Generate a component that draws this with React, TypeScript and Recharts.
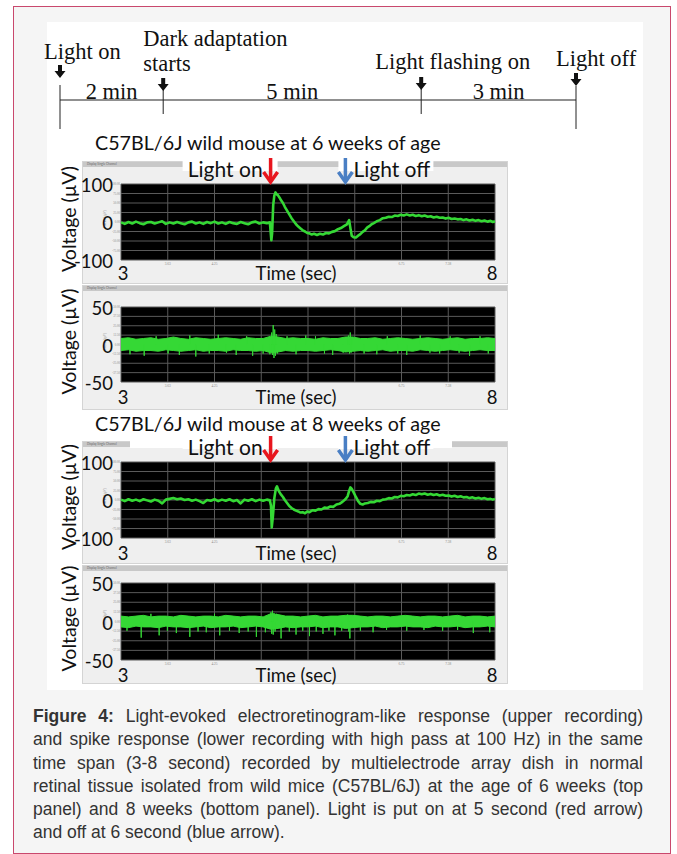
import React from 'react';
import { ComposedChart, Line, Area, Scatter, XAxis, YAxis, CartesianGrid, ReferenceLine, Label } from 'recharts';

// protocol timeline (minutes)
const eventTimes = [0, 2, 7, 10];
const eventLabels = [['Light on'], ['Dark adaptation', 'starts'], ['Light flashing on'], ['Light off']];

// recording axes
const timeTicks = [3, 3.625, 4.25, 4.875, 5.5, 6.125, 6.75, 7.375, 8];
const ergTicks = [-100, -75, -50, -25, 0, 25, 50, 75, 100];
const spikeTicks = [-50, -37.5, -25, -12.5, 0, 12.5, 25, 37.5, 50];
const lightOnSec = 5;
const lightOffSec = 6;

// ERG-like response, 6 weeks (sec, µV)
const erg6wk: [number, number][] = [
  [3.0, -1], [3.05, -5], [3.1, 0], [3.15, -4], [3.2, 1], [3.25, -3], [3.3, -6], [3.35, -1], [3.4, 0], [3.45, -4],
  [3.5, -1], [3.55, 2], [3.6, -5], [3.65, -1], [3.7, -4], [3.75, 0], [3.8, -3], [3.85, -6], [3.9, -1], [3.95, 1],
  [4.0, -4], [4.05, -1], [4.1, -5], [4.15, 0], [4.2, -3], [4.25, 1], [4.3, -4], [4.35, -1], [4.4, -5], [4.45, 0],
  [4.5, -3], [4.55, -5], [4.6, 0], [4.65, -3], [4.7, -6], [4.75, -1], [4.8, 1], [4.85, -4], [4.9, -1], [4.95, -3],
  [4.99, -1], [5.01, -48], [5.02, -30], [5.035, 45], [5.05, 70], [5.065, 78], [5.08, 73], [5.1, 70], [5.12, 64],
  [5.14, 57], [5.165, 50], [5.19, 40], [5.22, 30], [5.25, 20], [5.28, 10], [5.31, 2], [5.34, -6], [5.37, -12],
  [5.4, -17], [5.43, -22], [5.46, -25], [5.49, -29], [5.52, -30], [5.55, -33], [5.58, -31], [5.62, -34], [5.66, -31],
  [5.7, -33], [5.74, -29], [5.78, -30], [5.82, -26], [5.86, -24], [5.9, -19], [5.94, -16], [5.98, -11], [6.02, -6],
  [6.05, 5], [6.07, -20], [6.085, -36], [6.11, -40], [6.14, -41], [6.17, -36], [6.2, -32], [6.23, -26], [6.26, -22],
  [6.29, -15], [6.32, -11], [6.35, -6], [6.38, -3], [6.42, 2], [6.46, 5], [6.5, 10], [6.54, 11], [6.58, 14],
  [6.62, 13], [6.66, 17], [6.7, 16], [6.74, 19], [6.78, 17], [6.82, 20], [6.86, 17], [6.9, 19], [6.94, 16],
  [6.98, 18], [7.02, 15], [7.06, 17], [7.1, 14], [7.14, 15], [7.18, 12], [7.22, 14], [7.26, 11], [7.3, 12],
  [7.34, 9], [7.38, 11], [7.42, 8], [7.46, 9], [7.5, 7], [7.54, 8], [7.58, 5], [7.62, 7], [7.66, 4], [7.7, 6],
  [7.74, 3], [7.78, 5], [7.82, 2], [7.86, 4], [7.9, 1], [7.94, 3], [7.97, 0], [8.0, 2],
];

// ERG-like response, 8 weeks (sec, µV)
const erg8wk: [number, number][] = [
  [3.0, 1], [3.05, -3], [3.1, 2], [3.15, -2], [3.2, 1], [3.25, -3], [3.3, 2], [3.35, -1], [3.4, -4], [3.45, 1],
  [3.5, -2], [3.55, -9], [3.6, 1], [3.65, 3], [3.7, 5], [3.75, 2], [3.8, 4], [3.85, 0], [3.9, 2], [3.95, -2],
  [4.0, 1], [4.05, -3], [4.1, -8], [4.15, 0], [4.2, -2], [4.25, 2], [4.3, -3], [4.35, 1], [4.4, -2], [4.45, 2],
  [4.5, -3], [4.55, 0], [4.6, -9], [4.65, 1], [4.7, -2], [4.75, 2], [4.8, -3], [4.85, 1], [4.9, -2], [4.95, 1],
  [4.99, -1], [5.005, -15], [5.015, -72], [5.03, -45], [5.05, 5], [5.07, 30], [5.085, 36], [5.1, 28], [5.12, 20],
  [5.14, 14], [5.165, 8], [5.19, 0], [5.22, -8], [5.25, -16], [5.28, -21], [5.31, -25], [5.34, -28], [5.37, -30],
  [5.4, -33], [5.43, -32], [5.46, -35], [5.49, -30], [5.52, -32], [5.56, -27], [5.6, -28], [5.64, -24], [5.68, -25],
  [5.72, -20], [5.76, -21], [5.8, -17], [5.84, -18], [5.88, -12], [5.92, -10], [5.96, -5], [6.0, 2], [6.03, 10],
  [6.05, 24], [6.067, 33], [6.085, 29], [6.11, 20], [6.14, 8], [6.17, -3], [6.2, -10], [6.23, -12], [6.26, -9],
  [6.3, -8], [6.34, -5], [6.38, -6], [6.42, -2], [6.46, -3], [6.5, 1], [6.54, 2], [6.58, 5], [6.62, 4], [6.66, 8],
  [6.7, 7], [6.74, 11], [6.78, 10], [6.82, 13], [6.86, 12], [6.9, 15], [6.94, 13], [6.98, 17], [7.02, 15],
  [7.06, 17], [7.1, 14], [7.14, 16], [7.18, 13], [7.22, 15], [7.26, 12], [7.3, 14], [7.34, 11], [7.38, 12],
  [7.42, 9], [7.46, 11], [7.5, 8], [7.54, 10], [7.58, 7], [7.62, 8], [7.66, 5], [7.7, 7], [7.74, 4], [7.78, 6],
  [7.82, 3], [7.86, 5], [7.9, 2], [7.94, 3], [7.97, 1], [8.0, 3],
];

// spike recordings (high pass 100 Hz): noise envelope every 0.1 s plus single spikes
const bandTime = [
  3.0, 3.1, 3.2, 3.3, 3.4, 3.5, 3.6, 3.7, 3.8, 3.9, 4.0, 4.1, 4.2, 4.3, 4.4, 4.5, 4.6, 4.7, 4.8, 4.9,
  5.0, 5.1, 5.2, 5.3, 5.4, 5.5, 5.6, 5.7, 5.8, 5.9, 6.0, 6.1, 6.2, 6.3, 6.4, 6.5, 6.6, 6.7, 6.8, 6.9,
  7.0, 7.1, 7.2, 7.3, 7.4, 7.5, 7.6, 7.7, 7.8, 7.9, 8.0,
];
const spike6Upper = [
  8, 9, 7, 8, 9, 7, 8, 10, 8, 7, 9, 8, 7, 8, 9, 8, 7, 9, 8, 8,
  11, 10, 8, 9, 8, 8, 7, 9, 8, 8, 10, 10, 8, 8, 9, 7, 8, 9, 8, 7,
  8, 9, 8, 7, 8, 9, 7, 8, 8, 9, 8,
];
const spike6Lower = [
  -8, -7, -9, -8, -8, -9, -7, -8, -9, -8, -7, -9, -8, -8, -9, -7, -8, -8, -9, -8,
  -11, -10, -8, -9, -8, -8, -9, -8, -7, -8, -10, -9, -8, -9, -8, -7, -9, -8, -8, -9,
  -7, -8, -9, -8, -7, -8, -9, -8, -7, -8, -8,
];
const spike6Hairs: [number, number][] = [
  [3.12, -13], [3.31, -15], [3.47, 11], [3.63, -12], [3.78, -14], [3.92, 12], [4.0, -16], [4.18, -12], [4.3, 13],
  [4.41, -11], [4.54, -14], [4.68, 11], [4.76, -15], [4.9, -12], [4.99, -13], [5.015, 16], [5.025, -14], [5.035, 26],
  [5.045, -18], [5.055, 20], [5.065, -15], [5.075, 14], [5.09, -12], [5.22, 11], [5.34, -13], [5.47, 12], [5.6, 11],
  [5.72, -12], [5.83, -14], [5.97, -11], [6.04, 12], [6.055, -12], [6.065, 16], [6.075, -11], [6.09, 10], [6.25, -12],
  [6.42, -13], [6.56, 11], [6.7, -12], [6.82, -14], [7.0, 12], [7.13, -11], [7.26, -12], [7.4, 11], [7.52, -11],
  [7.66, -15], [7.8, 11], [7.91, -12],
];
const spike8Upper = [
  7, 6, 7, 8, 6, 7, 7, 6, 8, 7, 6, 7, 7, 6, 8, 7, 6, 7, 7, 6,
  10, 9, 7, 7, 6, 7, 8, 6, 7, 7, 8, 8, 7, 6, 7, 7, 6, 7, 8, 7,
  6, 7, 7, 6, 7, 8, 6, 7, 7, 6, 7,
];
const spike8Lower = [
  -7, -8, -6, -7, -7, -8, -6, -7, -7, -8, -7, -6, -8, -7, -7, -6, -8, -7, -6, -7,
  -10, -9, -7, -8, -7, -7, -6, -8, -7, -7, -9, -8, -7, -7, -6, -8, -7, -7, -6, -7,
  -7, -8, -6, -7, -7, -6, -8, -7, -7, -6, -7,
];
const spike8Hairs: [number, number][] = [
  [3.08, -12], [3.27, -21], [3.4, 10], [3.51, -18], [3.62, -12], [3.74, -15], [3.92, -20], [4.03, -13], [4.14, -14],
  [4.25, 10], [4.32, -18], [4.45, -12], [4.58, -15], [4.7, -13], [4.81, -20], [4.93, -14], [5.005, 12], [5.015, -16],
  [5.025, 14], [5.035, -17], [5.045, 11], [5.06, -13], [5.08, 10], [5.14, -22], [5.25, -13], [5.34, -17], [5.43, -12],
  [5.52, -19], [5.61, -13], [5.7, -16], [5.78, -12], [5.86, -18], [5.95, -12], [6.03, 9], [6.045, -13], [6.06, -22],
  [6.075, 8], [6.2, -12], [6.37, -14], [6.55, -11], [6.82, -12], [7.05, -11], [7.3, -12], [7.5, -11], [7.71, -15],
  [7.93, -14],
];

const SANS = 'Lato, "Open Sans", sans-serif';
const SERIF = '"Liberation Serif", "DejaVu Serif", serif';
const GREEN = '#35d835';
const PANEL_FONT = 18.5;

// label placement around each timeline tick (px, relative to the tick)
const eventLayout = [
  { dx: -16, lines: [-49], arrowTop: -35, tickTop: -15, tickBottom: 29 },
  { dx: -20, lines: [-62, -37], arrowTop: -22, tickTop: -11, tickBottom: 14 },
  { dx: -46, lines: [-39], arrowTop: -23, tickTop: -11, tickBottom: 14 },
  { dx: -20, lines: [-42], arrowTop: -27, tickTop: -14, tickBottom: 29 },
];

const DownArrow = ({ x, y }: { x: number; y: number }) => (
  <path d={`M${x - 2} ${y} L${x + 2} ${y} L${x + 2} ${y + 6} L${x + 5.5} ${y + 6} L${x} ${y + 13} L${x - 5.5} ${y + 6} L${x - 2} ${y + 6} Z`} fill="#111" />
);

const EventMark = (props: any) => {
  const { cx, cy, payload } = props;
  const lay = eventLayout[payload.i];
  return (
    <g>
      <line x1={cx} x2={cx} y1={cy + lay.tickTop} y2={cy + lay.tickBottom} stroke="#222" strokeWidth={1} />
      <DownArrow x={cx} y={cy + lay.arrowTop} />
      {eventLabels[payload.i].map((s, k) => (
        <text key={k} x={cx + lay.dx} y={cy + lay.lines[k]} dominantBaseline="central" fontFamily={SERIF} fontSize={22.5} fill="#111">
          {s}
        </text>
      ))}
    </g>
  );
};

const SpanMark = (props: any) => {
  const { cx, cy, payload } = props;
  return (
    <text x={cx} y={cy - 9} textAnchor="middle" dominantBaseline="central" fontFamily={SERIF} fontSize={22.5} fill="#111">
      {`${payload.mins} min`}
    </text>
  );
};

const Timeline = () => {
  const marks = eventTimes.map((t, i) => ({ t, y: 0, i }));
  const spans = eventTimes.slice(1).map((t, i) => ({ t: (t + eventTimes[i]) / 2, y: 0, mins: t - eventTimes[i] }));
  const axis = [{ t: eventTimes[0], y: 0 }, { t: eventTimes[eventTimes.length - 1], y: 0 }];
  return (
    <div style={{ position: 'absolute', left: 0, top: 0 }}>
      <ComposedChart width={677} height={140} margin={{ top: 60, right: 101, bottom: 0, left: 60 }}>
        <XAxis type="number" dataKey="t" domain={[0, 10]} hide />
        <YAxis type="number" dataKey="y" domain={[-1, 1]} hide />
        <Line data={axis} dataKey="y" stroke="#222" strokeWidth={1.2} dot={false} isAnimationActive={false} />
        <Scatter data={marks} dataKey="y" shape={EventMark} isAnimationActive={false} />
        <Scatter data={spans} dataKey="y" shape={SpanMark} isAnimationActive={false} />
      </ComposedChart>
    </div>
  );
};

const ArrowLabel = (props: any) => {
  const { viewBox, color, text, side } = props;
  const x = viewBox.x;
  const y = viewBox.y;
  const left = side === 'left';
  return (
    <g>
      <rect x={left ? x - 88 : x - 7} y={y - 27} width={95} height={14} fill="#fff" />
      <text x={left ? x - 8 : x + 8} y={y - 16} textAnchor={left ? 'end' : 'start'} dominantBaseline="central" fontFamily={SANS} fontSize={21} fill="#111">
        {text}
      </text>
      <line x1={x} x2={x} y1={y - 26} y2={y - 3} stroke={color} strokeWidth={3.5} />
      <polyline points={`${x - 7},${y - 12} ${x},${y - 2} ${x + 7},${y - 12}`} fill="none" stroke={color} strokeWidth={3.5} />
    </g>
  );
};

type PanelProps = {
  top: number;
  marginTop: number;
  plotHeight: number;
  axisHeight: number;
  yTicks: number[];
  timeDy: number;
  arrows: boolean;
  data: any[];
  series: React.ReactNode[];
};

const RecordingPanel = ({ top, marginTop, plotHeight, axisHeight, yTicks, timeDy, arrows, data, series }: PanelProps) => {
  const yMax = yTicks[yTicks.length - 1];
  const first = timeTicks[0];
  const last = timeTicks[timeTicks.length - 1];
  const mid = (first + last) / 2;
  const timeTick = (p: any) => {
    const v = p.payload.value;
    const big = v === first || v === last;
    // the small software labels under the axis title are hidden by it
    const underTitle = Math.abs(v - mid) < 0.7;
    return (
      <g>
        {!big && !underTitle && (
          <text x={p.x} y={p.y + 4} textAnchor="middle" dominantBaseline="central" fontSize={3.5} fill="#888">{v.toFixed(2)}</text>
        )}
        {big && (
          <text x={p.x + (v === first ? 2 : -3)} y={p.y + timeDy} textAnchor="middle" dominantBaseline="central" fontFamily={SANS} fontSize={PANEL_FONT} fill="#111">
            {v}
          </text>
        )}
      </g>
    );
  };
  const voltTick = (p: any) => {
    const v = p.payload.value;
    const big = v === yMax || v === 0 || v === -yMax;
    return (
      <g>
        {v !== -yMax && (
          <text x={p.x - 1} y={p.y} textAnchor="end" dominantBaseline="central" fontSize={3} fill="#888">{v.toFixed(2)}</text>
        )}
        {big && (
          <text x={p.x - 8} y={p.y + 1} textAnchor="end" dominantBaseline="central" fontFamily={SANS} fontSize={PANEL_FONT} fill="#111">
            {v}
          </text>
        )}
      </g>
    );
  };
  return (
    <div style={{ position: 'absolute', left: 50, top }}>
      <ComposedChart width={458} height={marginTop + plotHeight + axisHeight + 8} data={data} margin={{ top: marginTop, right: 13, bottom: 8, left: 0 }}>
        <CartesianGrid fill="#000" fillOpacity={1} stroke="#5a5a5a" strokeWidth={1} />
        <XAxis type="number" dataKey="t" domain={[3, 8]} ticks={timeTicks} interval={0} height={axisHeight} tickSize={0} tickMargin={0} tickLine={false} axisLine={false} tick={timeTick}>
          <Label
            content={(lp: any) => (
              <text x={lp.viewBox.x + lp.viewBox.width / 2 - 12} y={lp.viewBox.y + timeDy} textAnchor="middle" dominantBaseline="central" fontFamily={SANS} fontSize={PANEL_FONT} fill="#111">
                Time (sec)
              </text>
            )}
          />
        </XAxis>
        <YAxis type="number" domain={[-yMax, yMax]} ticks={yTicks} interval={0} width={71} tickSize={0} tickMargin={0} tickLine={false} axisLine={false} tick={voltTick} allowDataOverflow>
          <Label
            content={(lp: any) => {
              const cx = lp.viewBox.x + 18;
              const cy = lp.viewBox.y + lp.viewBox.height / 2 - 3;
              const tx = lp.viewBox.x + 55;
              return (
                <g>
                  <text x={cx} y={cy} transform={`rotate(-90 ${cx} ${cy})`} textAnchor="middle" dominantBaseline="central" fontFamily={SANS} fontSize={19.5} fill="#111">
                    Voltage (µV)
                  </text>
                  <text x={tx} y={cy} transform={`rotate(-90 ${tx} ${cy})`} textAnchor="middle" dominantBaseline="central" fontSize={3} fill="#888">
                    Potential (µV)
                  </text>
                </g>
              );
            }}
          />
        </YAxis>
        {series}
        {arrows && (
          <ReferenceLine x={lightOnSec} stroke="none" label={<ArrowLabel color="#e8161e" text="Light on" side="left" />} />
        )}
        {arrows && (
          <ReferenceLine x={lightOffSec} stroke="none" label={<ArrowLabel color="#4a7fc4" text="Light off" side="right" />} />
        )}
      </ComposedChart>
    </div>
  );
};

const ergSeries = (key: string) => [
  <Line key={key} dataKey="v" type="linear" stroke={GREEN} strokeWidth={2.6} strokeLinejoin="round" dot={false} isAnimationActive={false} />,
];

const spikeSeries = (hairs: [number, number][]) => [
  <Area key="band" dataKey="band" type="linear" stroke={GREEN} strokeWidth={1} fill={GREEN} fillOpacity={1} dot={false} isAnimationActive={false} />,
  <Line
    key="hairs"
    data={hairs.flatMap(([t, v]) => [{ t, v: 0 }, { t, v }, { t, v: 0 }])}
    dataKey="v"
    type="linear"
    stroke={GREEN}
    strokeWidth={1}
    dot={false}
    isAnimationActive={false}
  />,
];

const Frame = ({ top, height }: { top: number; height: number }) => (
  <div style={{ position: 'absolute', left: 82, top, width: 426, height, background: '#efefef', boxSizing: 'border-box', border: '1px solid #d4d4d4' }}>
    <div style={{ height: 5, background: '#c8c8c8', fontSize: 3, lineHeight: '5px', color: '#666', paddingLeft: 4, fontFamily: SANS }}>
      Display Single Channel
    </div>
  </div>
);

const captionLines = [
  'Light-evoked electroretinogram-like response (upper recording)',
  'and spike response (lower recording with high pass at 100 Hz) in the same',
  'time span (3-8 second) recorded by multielectrode array dish in normal',
  'retinal tissue isolated from wild mice (C57BL/6J) at the age of 6 weeks (top',
  'panel) and 8 weeks (bottom panel). Light is put on at 5 second (red arrow)',
  'and off at 6 second (blue arrow).',
];

export default function App() {
  const erg6Data = erg6wk.map(([t, v]) => ({ t, v }));
  const erg8Data = erg8wk.map(([t, v]) => ({ t, v }));
  const spike6Data = bandTime.map((t, i) => ({ t, band: [spike6Lower[i], spike6Upper[i]] }));
  const spike8Data = bandTime.map((t, i) => ({ t, band: [spike8Lower[i], spike8Upper[i]] }));
  const titleStyle: React.CSSProperties = {
    position: 'absolute', left: 95, fontFamily: SANS, fontSize: 19.7, lineHeight: '18px', color: '#111', whiteSpace: 'nowrap',
  };
  return (
    <div style={{ position: 'absolute', left: 0, top: 0, width: 677, height: 854, background: '#fff', overflow: 'hidden' }}>
      <div style={{ position: 'absolute', left: 13, top: 6, width: 658, height: 848, boxSizing: 'border-box', border: '1.5px solid #c9486d', background: '#f5f5f5' }} />
      <div style={{ position: 'absolute', left: 47, top: 22, width: 596, height: 668, background: '#fff' }} />

      <Frame top={161} height={123} />
      <Frame top={285} height={125} />
      <Frame top={441} height={123} />
      <Frame top={565} height={119} />
      <div style={{ position: 'absolute', left: 130, top: 438, width: 322, height: 10, background: '#fff' }} />

      <div style={{ ...titleStyle, top: 134 }}>C57BL/6J wild mouse at 6 weeks of age</div>
      <div style={{ ...titleStyle, top: 415 }}>C57BL/6J wild mouse at 8 weeks of age</div>

      <Timeline />

      <RecordingPanel top={150} marginTop={34} plotHeight={76} axisHeight={24} yTicks={ergTicks} timeDy={13} arrows data={erg6Data} series={ergSeries('erg6')} />
      <RecordingPanel top={285} marginTop={22} plotHeight={75} axisHeight={28} yTicks={spikeTicks} timeDy={15} arrows={false} data={spike6Data} series={spikeSeries(spike6Hairs)} />
      <RecordingPanel top={430} marginTop={32} plotHeight={76} axisHeight={26} yTicks={ergTicks} timeDy={15} arrows data={erg8Data} series={ergSeries('erg8')} />
      <RecordingPanel top={565} marginTop={18} plotHeight={77} axisHeight={24} yTicks={spikeTicks} timeDy={15} arrows={false} data={spike8Data} series={spikeSeries(spike8Hairs)} />

      <div style={{ position: 'absolute', left: 33, top: 705, width: 610, fontFamily: '"Liberation Sans", Arial, sans-serif', fontSize: 17.5, lineHeight: '23.3px', color: '#333' }}>
        {captionLines.map((s, i) => (
          <div key={i} style={{ textAlign: 'justify', textAlignLast: i < captionLines.length - 1 ? 'justify' : 'left', whiteSpace: 'nowrap' }}>
            {i === 0 && <b>Figure 4: </b>}
            {s}
          </div>
        ))}
      </div>
    </div>
  );
}
